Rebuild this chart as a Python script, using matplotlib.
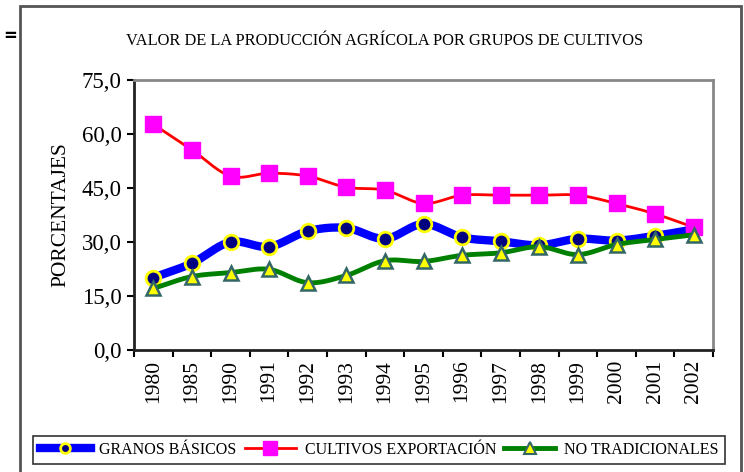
import numpy as np
import matplotlib
matplotlib.use("Agg")
import matplotlib.pyplot as plt
from matplotlib.patches import Rectangle

years = ["1980", "1985", "1990", "1991", "1992", "1993", "1994", "1995",
         "1996", "1997", "1998", "1999", "2000", "2001", "2002"]
granos_basicos = [20.1, 24.1, 30.0, 28.7, 33.0, 33.9, 30.9, 35.0,
                  31.3, 30.2, 29.1, 30.9, 30.4, 31.7, 33.5]
cultivos_exportacion = [62.7, 55.6, 48.3, 49.1, 48.3, 45.2, 44.4, 40.7,
                        43.0, 43.0, 43.0, 43.0, 40.7, 37.8, 34.1]
no_tradicionales = [17.1, 20.4, 21.5, 22.4, 18.7, 20.7, 24.8, 24.6,
                    26.3, 27.0, 28.7, 26.5, 29.3, 30.7, 32.0]
yticks = [0, 15, 30, 45, 60, 75]
title = "VALOR DE LA PRODUCCIÓN AGRÍCOLA POR GRUPOS DE CULTIVOS"
ylabel = "PORCENTAJES"
labels = ["GRANOS BÁSICOS", "CULTIVOS EXPORTACIÓN", "NO TRADICIONALES"]


def smooth(xs, ys, n=20):
    """Catmull-Rom curve through the data points (Excel-like smoothed line)."""
    x = np.asarray(xs, float)
    y = np.asarray(ys, float)
    px = np.concatenate([[2 * x[0] - x[1]], x, [2 * x[-1] - x[-2]]])
    py = np.concatenate([[2 * y[0] - y[1]], y, [2 * y[-1] - y[-2]]])
    ox, oy = [], []
    t = np.linspace(0, 1, n, endpoint=False)
    for i in range(1, len(px) - 2):
        for arr, out in ((px, ox), (py, oy)):
            p0, p1, p2, p3 = arr[i - 1], arr[i], arr[i + 1], arr[i + 2]
            out.extend(0.5 * ((2 * p1) + (-p0 + p2) * t
                              + (2 * p0 - 5 * p1 + 4 * p2 - p3) * t ** 2
                              + (-p0 + 3 * p1 - 3 * p2 + p3) * t ** 3))
    ox.append(x[-1]); oy.append(y[-1])
    return np.array(ox), np.array(oy)


plt.rcParams['font.family'] = ['Liberation Serif', 'DejaVu Serif']
fig = plt.figure(figsize=(7.44, 4.72), dpi=100)
fig.patch.set_facecolor('white')

# outer chart frame
fig.add_artist(Rectangle((20 / 744, -0.05), (741 - 20) / 744, (472 - 6) / 472 + 0.05,
                         transform=fig.transFigure, fill=False,
                         edgecolor='#555555', linewidth=2.0))
fig.text(3 / 744, 1 - 36 / 472, "=", fontsize=12, fontweight='bold',
         ha='left', va='center', family='DejaVu Sans')

ax = fig.add_axes([134 / 744, 1 - 350 / 472, (713 - 134) / 744, (350 - 80) / 472])
x = np.arange(len(years))

# Granos básicos
sx, sy = smooth(x, granos_basicos)
ax.plot(sx, sy, color='#0000FF', linewidth=6, solid_capstyle='round', zorder=2)
ax.plot(x, granos_basicos, linestyle='none', marker='o', markersize=10.5,
        markerfacecolor='#000080', markeredgecolor='#FFFF00', markeredgewidth=2, zorder=3)
# Cultivos exportación
sx, sy = smooth(x, cultivos_exportacion)
ax.plot(sx, sy, color='#FF0000', linewidth=2, zorder=4)
ax.plot(x, cultivos_exportacion, linestyle='none', marker='s', markersize=12,
        markerfacecolor='#FF00FF', markeredgecolor='#FF00FF', zorder=5)
# No tradicionales
sx, sy = smooth(x, no_tradicionales)
ax.plot(sx, sy, color='#008000', linewidth=3.5, zorder=6)
ax.plot(x, no_tradicionales, linestyle='none', marker='^', markersize=10,
        markerfacecolor='#FFFF00', markeredgecolor='#336666', markeredgewidth=1.8, zorder=7)

ax.set_xlim(-0.5, len(years) - 0.5)
ax.set_ylim(0, 75)
ax.set_yticks(yticks)
ax.set_yticklabels([f"{v:.1f}".replace('.', ',') for v in yticks], fontsize=16.5)
ax.tick_params(axis='y', direction='out', length=5, width=1.5, pad=4)

ax.set_xticks(x)
ax.set_xticklabels(years, rotation=90, fontsize=15.5)
ax.set_xticks(np.arange(len(years) + 1) - 0.5, minor=True)
ax.tick_params(axis='x', which='major', length=0, pad=7)
ax.tick_params(axis='x', which='minor', direction='out', length=5, width=1.5)

for s in ('left', 'bottom'):
    ax.spines[s].set_color('#222222')
    ax.spines[s].set_linewidth(2)
for s in ('top', 'right'):
    ax.spines[s].set_color('#888888')
    ax.spines[s].set_linewidth(2)

ax.set_ylabel(ylabel, fontsize=15.5, labelpad=8)
fig.text(385 / 744, 1 - 41 / 472, title, fontsize=11.8, ha='center', va='center')

# legend
h1, = ax.plot([], [], color='#0000FF', linewidth=6, marker='o', markersize=7,
              markerfacecolor='#000080', markeredgecolor='#FFFF00', markeredgewidth=2)
h2, = ax.plot([], [], color='#FF0000', linewidth=2, marker='s', markersize=10,
              markerfacecolor='#FF00FF', markeredgecolor='#FF00FF')
h3, = ax.plot([], [], color='#008000', linewidth=3.5, marker='^', markersize=8,
              markerfacecolor='#FFFF00', markeredgecolor='#336666', markeredgewidth=1.5)
leg = fig.legend([h1, h2, h3], labels, loc='center', ncol=3,
                 bbox_to_anchor=(379 / 744, 1 - 450 / 472), fontsize=11.5,
                 frameon=True, fancybox=False, edgecolor='black', handlelength=3.2,
                 handletextpad=0.55, columnspacing=0.5, borderpad=0.4)
leg.get_frame().set_linewidth(1.2)

fig.savefig("out.png", dpi=100, facecolor='white')
